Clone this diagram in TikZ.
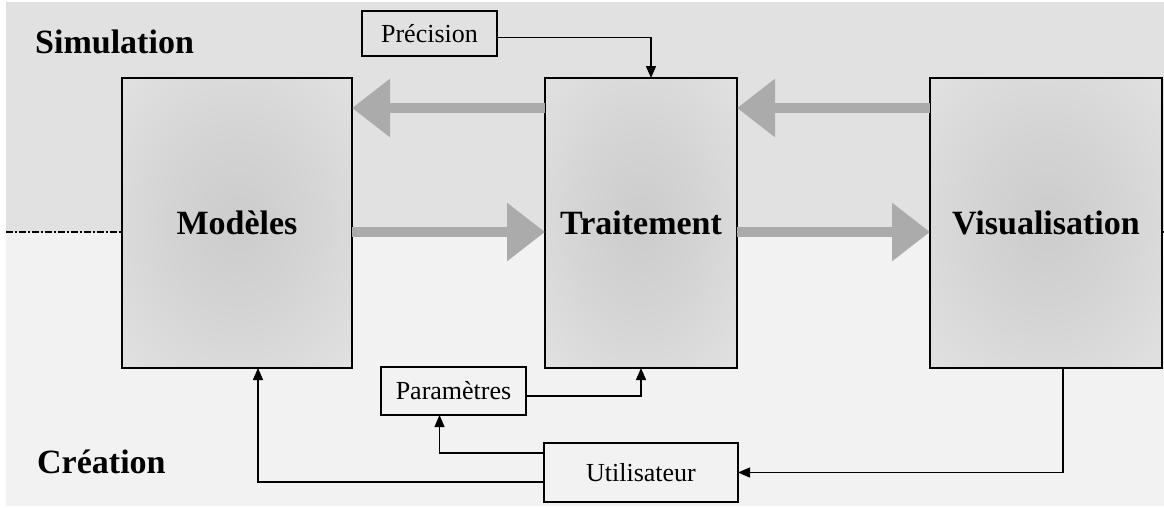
\documentclass[tikz,border=0pt]{standalone}
\usepackage{fontspec}
\setmainfont{Liberation Serif}
\usetikzlibrary{arrows.meta,calc}
\definecolor{simbg}{HTML}{E1E1E1}
\definecolor{creabg}{HTML}{F2F2F2}
\definecolor{flowgray}{HTML}{ABABAB}
\pgfdeclareradialshading{boxglow}{\pgfpoint{0bp}{0bp}}{color(0bp)=(black!20); color(15bp)=(black!17); color(50bp)=(black!8)}
\tikzset{
  bigbox/.style={draw, line width=1.5pt, inner sep=0pt, outer sep=0pt, shading=boxglow, font=\fontsize{34}{38}\selectfont\bfseries, align=center},
  smallbox/.style={draw, line width=1.3pt, inner sep=0pt, outer sep=0pt, font=\fontsize{26}{30}\selectfont, align=center},
  zonelabel/.style={anchor=base west, inner sep=0pt, font=\fontsize{34}{38}\selectfont\bfseries},
  flowarrow/.style={-{Triangle[length=38pt,width=56pt]}, line width=10pt, flowgray},
  ctrlarrow/.style={-{Triangle[length=12pt,width=10pt]}, line width=1.4pt}
}

\begin{document}
\begin{tikzpicture}[x=1pt,y=-1pt]
\useasboundingbox (0,0) rectangle (1164,507);
% zones
\fill[simbg] (6,2) rectangle (1164,232);
\fill[creabg] (6,232) rectangle (1164,506);
\node[zonelabel] (simlabel) at (35,53) {Simulation};
\node[zonelabel] (crealabel) at (37,473) {Création};

% main blocks
\node[bigbox, minimum width=230pt, minimum height=290pt] (modeles) at (237,223) {Modèles};
\node[bigbox, minimum width=192pt, minimum height=290pt] (traitement) at (641,223) {Traitement};
\node[bigbox, minimum width=232pt, minimum height=290pt] (visu) at (1046,223) {Visualisation};

% axis between zones
\coordinate (axisL) at (6,232);
\coordinate (axisR) at (1164,232);
\draw[line width=1.2pt, dash pattern=on 7pt off 2pt on 2pt off 2pt] (axisL) -- (modeles.west |- axisL);
\draw[line width=1.2pt] (visu.east |- axisR) -- (axisR);

% small boxes
\node[smallbox, minimum width=135pt, minimum height=45pt] (precision) at (429.5,33.5) {Précision};
\node[smallbox, minimum width=145pt, minimum height=48pt] (params) at (453.5,391) {Paramètres};
\node[smallbox, minimum width=194pt, minimum height=59pt] (user) at (641,472.5) {Utilisateur};

% data flow
\draw[flowarrow] ([yshift=-9pt]modeles.east) -- ([yshift=-9pt]traitement.west);
\draw[flowarrow] ([yshift=-9pt]traitement.east) -- ([yshift=-9pt]visu.west);
\draw[flowarrow] ([yshift=-30pt]traitement.north west) -- ([yshift=-30pt]modeles.north east);
\draw[flowarrow] ([yshift=-30pt]visu.north west) -- ([yshift=-30pt]traitement.north east);

% control
\draw[ctrlarrow] ([yshift=-4pt]precision.east) -| ([xshift=10pt]traitement.north);
\draw[ctrlarrow] ([yshift=-5pt]params.east) -| (traitement.south);
\draw[ctrlarrow] ([xshift=17pt]visu.south) |- (user.east);
\draw[ctrlarrow] ([yshift=19.5pt]user.west) -| ([xshift=-14pt]params.south);
\draw[ctrlarrow] ([yshift=-9.5pt]user.west) -| ([xshift=21pt]modeles.south);
\end{tikzpicture}
\end{document}
